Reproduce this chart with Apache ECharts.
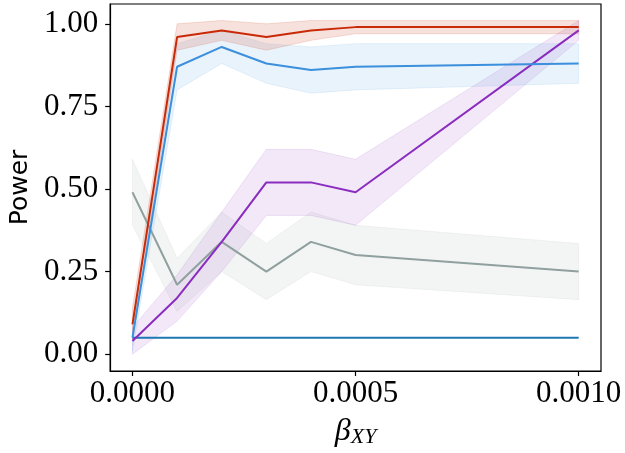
<!DOCTYPE html>
<html>
<head>
  <meta charset="utf-8">
  <script src="https://cdn.jsdelivr.net/npm/echarts@6.0.0/dist/echarts.min.js"></script>
  <style>
    html, body { margin: 0; padding: 0; background: #fff; }
    #chart { width: 625px; height: 453px; }
  </style>
</head>
<body>
  <div id="chart"></div>
  <script>
    // x values (beta_XY)
    var betaXY = [0, 0.0001, 0.0002, 0.0003, 0.0004, 0.0005, 0.001];
    var xTicks = [0, 0.0005, 0.001];
    var yTicks = [0, 0.25, 0.5, 0.75, 1.0];

    // power curves and their bands
    var redMean = [0.09, 0.96, 0.98, 0.96, 0.98, 0.99, 0.99];
    var redLow  = [0.04, 0.92, 0.95, 0.92, 0.95, 0.97, 0.97];
    var redHigh = [0.14, 1.00, 1.01, 1.00, 1.01, 1.01, 1.01];

    var blueMean = [0.05, 0.87, 0.93, 0.88, 0.86, 0.87, 0.88];
    var blueLow  = [0.01, 0.80, 0.88, 0.82, 0.79, 0.80, 0.82];
    var blueHigh = [0.09, 0.94, 0.98, 0.94, 0.93, 0.94, 0.94];

    var purpleMean = [0.04, 0.17, 0.34, 0.52, 0.52, 0.49, 0.98];
    var purpleLow  = [0.00, 0.10, 0.25, 0.42, 0.42, 0.39, 0.95];
    var purpleHigh = [0.08, 0.24, 0.43, 0.62, 0.62, 0.59, 1.01];

    var grayMean = [0.49, 0.21, 0.34, 0.25, 0.34, 0.30, 0.25];
    var grayLow  = [0.39, 0.13, 0.25, 0.165, 0.25, 0.21, 0.165];
    var grayHigh = [0.59, 0.29, 0.43, 0.335, 0.43, 0.39, 0.335];

    var baseMean = [0.05, 0.05, 0.05, 0.05, 0.05, 0.05, 0.05];

    var chart = echarts.init(document.getElementById('chart'));

    function pairs(vals) {
      return betaXY.map(function (x, i) { return [x, vals[i]]; });
    }

    // shaded band drawn as one polygon from [x, low, high] rows
    function band(name, low, high, color, alpha) {
      return {
        type: 'custom', name: name + '-band', silent: true, z: 1,
        data: betaXY.map(function (x, i) { return [x, low[i], high[i]]; }),
        encode: { x: 0, y: [1, 2] },
        renderItem: function (params, api) {
          if (params.dataIndexInside !== 0) return null;
          var n = params.dataInsideLength, top = [], bottom = [];
          for (var i = 0; i < n; i++) {
            top.push(api.coord([api.value(0, i), api.value(2, i)]));
            bottom.push(api.coord([api.value(0, i), api.value(1, i)]));
          }
          return {
            type: 'polygon',
            shape: { points: top.concat(bottom.reverse()) },
            style: {
              fill: color, opacity: alpha,
              stroke: color, lineWidth: 1
            }
          };
        }
      };
    }

    function line(name, vals, color) {
      return {
        type: 'line', name: name, data: pairs(vals), symbol: 'none',
        lineStyle: { color: color, width: 2 }, z: 3
      };
    }

    var series = [
      band('gray', grayLow, grayHigh, '#8fa09f', 0.11),
      band('purple', purpleLow, purpleHigh, '#8a2cbf', 0.11),
      band('blue', blueLow, blueHigh, '#3b8fdc', 0.11),
      band('red', redLow, redHigh, '#c82a08', 0.14),
      line('base', baseMean, '#1f77b4'),
      line('gray', grayMean, '#8fa09f'),
      line('purple', purpleMean, '#8a2cbf'),
      line('blue', blueMean, '#3b8fdc'),
      line('red', redMean, '#c82a08')
    ];

    var option = {
      animation: false,
      grid: {
        left: 105, top: 4, right: 24, bottom: 79,
        show: true, borderColor: '#000', borderWidth: 1.2
      },
      xAxis: {
        type: 'value', min: -0.00005, max: 0.00105,
        name: '{b|β}{s|XY}', nameLocation: 'middle', nameGap: 45,
        nameTextStyle: {
          rich: {
            b: { fontFamily: 'Liberation Serif', fontStyle: 'italic', fontSize: 32, color: '#000', verticalAlign: 'bottom', lineHeight: 32 },
            s: { fontFamily: 'Liberation Serif', fontStyle: 'italic', fontSize: 22, color: '#000', verticalAlign: 'bottom', lineHeight: 18 }
          }
        },
        splitLine: { show: false },
        axisLine: { show: true, onZero: false, lineStyle: { color: '#000', width: 1.2 } },
        axisTick: { show: true, length: 5, lineStyle: { color: '#000', width: 1.2 }, customValues: xTicks },
        axisLabel: {
          customValues: xTicks, margin: 7,
          fontFamily: 'Liberation Serif', fontSize: 31, color: '#000',
          formatter: function (v) { return v.toFixed(4); }
        }
      },
      yAxis: {
        type: 'value', min: -0.051, max: 1.06,
        name: 'Power', nameLocation: 'middle', nameGap: 70, nameRotate: 90,
        nameTextStyle: { fontFamily: 'DejaVu Sans', fontSize: 25, color: '#000' },
        splitLine: { show: false },
        axisLine: { show: true, onZero: false, lineStyle: { color: '#000', width: 1.2 } },
        axisTick: { show: true, length: 5, lineStyle: { color: '#000', width: 1.2 }, customValues: yTicks },
        axisLabel: {
          customValues: yTicks, margin: 12,
          fontFamily: 'Liberation Serif', fontSize: 31, color: '#000',
          formatter: function (v) { return v.toFixed(2); }
        }
      },
      series: series
    };

    chart.setOption(option);
  </script>
</body>
</html>
